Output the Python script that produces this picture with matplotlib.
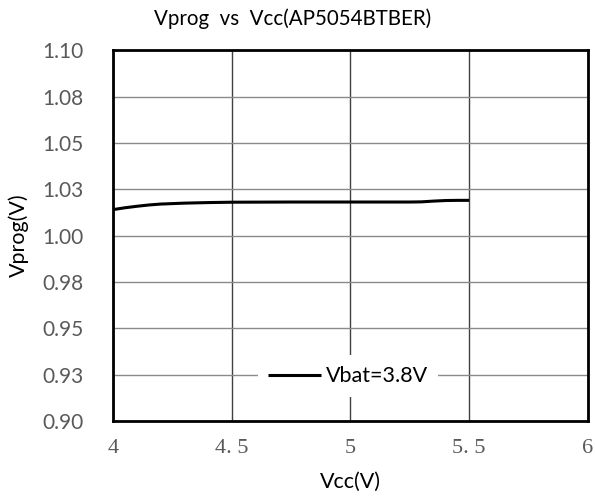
import matplotlib
matplotlib.use("Agg")
import matplotlib.pyplot as plt

vcc = [4.0, 4.05, 4.1, 4.15, 4.2, 4.3, 4.4, 4.5, 4.75, 5.0, 5.25, 5.3, 5.35, 5.4, 5.45, 5.5]
vprog = [1.0140, 1.0150, 1.0158, 1.0165, 1.0170, 1.0175, 1.0178, 1.0180, 1.0181, 1.0181, 1.0181, 1.0182, 1.0186, 1.0189, 1.0190, 1.0190]
series_label = "Vbat=3.8V"
title = "Vprog  vs  Vcc(AP5054BTBER)"
xlabel = "Vcc(V)"
ylabel = "Vprog(V)"
xticks = [4.0, 4.5, 5.0, 5.5, 6.0]
xtick_labels = ["4", "4. 5", "5", "5. 5", "6"]
yticks = [0.900, 0.925, 0.950, 0.975, 1.000, 1.025, 1.050, 1.075, 1.100]
ytick_labels = ["0.90", "0.93", "0.95", "0.98", "1.00", "1.03", "1.05", "1.08", "1.10"]

fig = plt.figure(figsize=(5.95, 4.97), dpi=100)
ax = fig.add_axes([0.190, 0.153, 0.798, 0.746])
sans = ["Lato", "DejaVu Sans"]
serif = ["Liberation Serif", "DejaVu Serif"]

ax.set_xlim(4, 6)
ax.set_ylim(0.9, 1.1)
ax.set_xticks(xticks)
ax.set_xticklabels(xtick_labels, fontsize=16, family=serif, color="#595959")
ax.set_yticks(yticks)
ax.set_yticklabels(ytick_labels, fontsize=15, family=sans, color="#595959")

ax.xaxis.grid(True, color="#404040", lw=1.0)
ax.yaxis.grid(True, color="#8a8a8a", lw=1.0)
ax.set_axisbelow(True)
for s in ax.spines.values():
    s.set_linewidth(2.0)
    s.set_color("black")

ax.tick_params(axis="both", length=0)
ax.tick_params(axis="y", pad=21)
ax.tick_params(axis="x", pad=13)

ax.plot(vcc, vprog, color="black", lw=2.2, label=series_label, solid_capstyle="butt")

leg = ax.legend(loc="center", bbox_to_anchor=(0.495, 0.121), frameon=True,
                prop={"family": sans, "size": 15.5}, handlelength=2.45,
                handletextpad=0.2, borderpad=0.5, fancybox=False)
leg.get_frame().set_facecolor("white")
leg.get_frame().set_edgecolor("none")
leg.get_frame().set_alpha(1.0)

fig.text(0.491, 0.963, title, ha="center", va="center", fontsize=14.8, family=sans)
ax.set_xlabel(xlabel, fontsize=15.5, family=sans, labelpad=10)
ax.set_ylabel(ylabel, fontsize=15.5, family=sans, labelpad=10)

fig.savefig("out.png", dpi=100)
